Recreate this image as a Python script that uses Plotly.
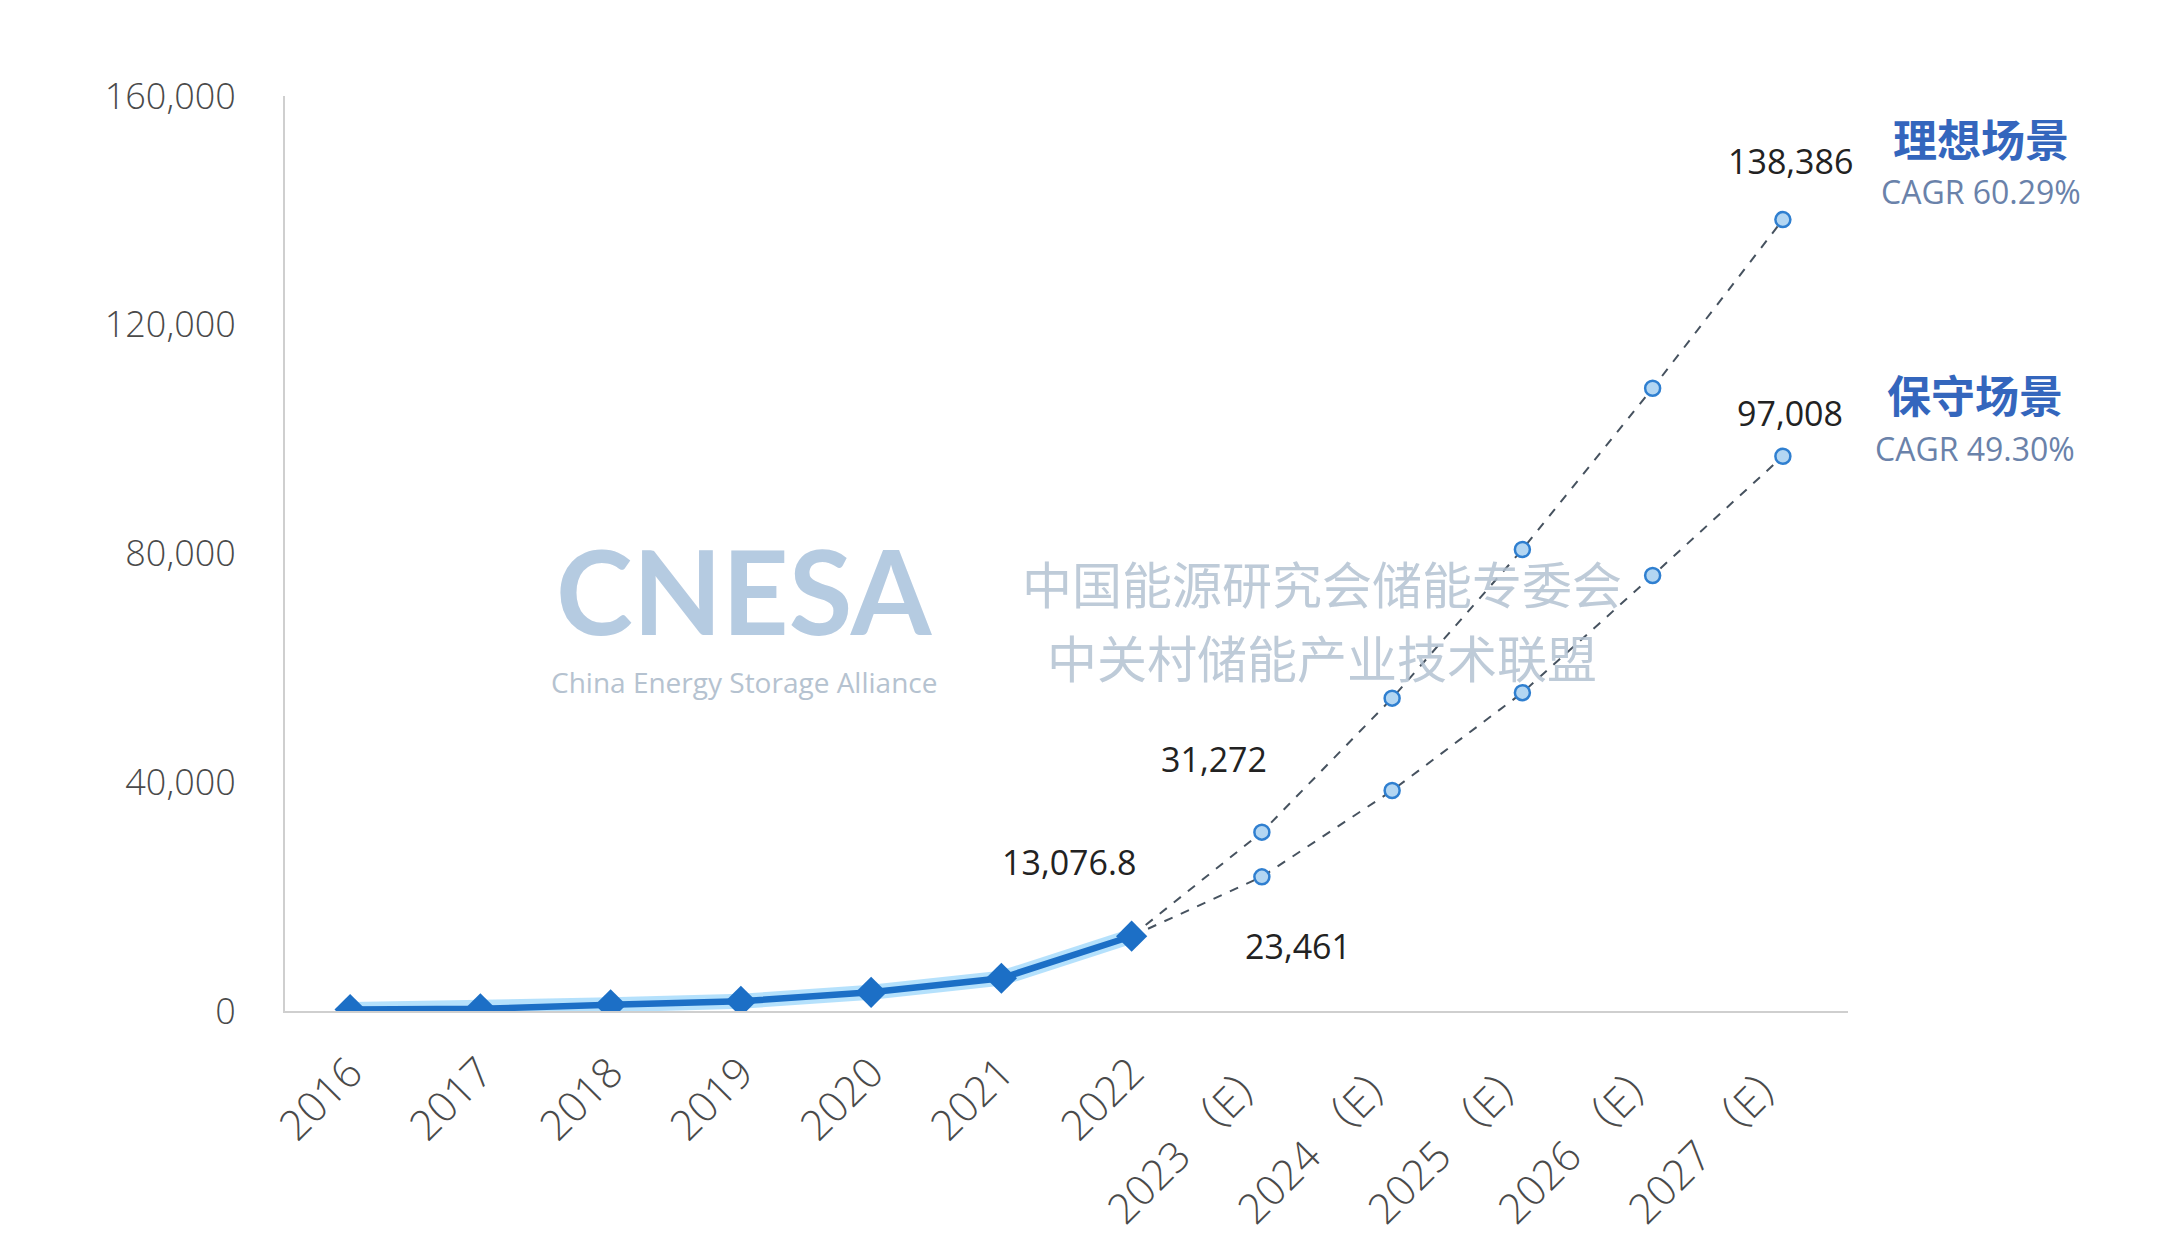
import plotly.graph_objects as go

# ---- data ----
categories = ["2016", "2017", "2018", "2019", "2020", "2021", "2022",
              "2023 （E）", "2024 （E）", "2025 （E）", "2026 （E）", "2027 （E）"]
hist_years = categories[:7]
hist_values = [243, 390, 1073, 1709, 3269, 5730, 13076.8]
proj_years = categories[6:]
ideal_values = [13076.8, 31272, 54700, 80700, 108900, 138386]
cons_values = [13076.8, 23461, 38550, 55660, 76150, 97008]
y_ticks = [0, 40000, 80000, 120000, 160000]
y_tick_text = ["0", "40,000", "80,000", "120,000", "160,000"]

ideal_name = "理想场景"
ideal_cagr = "CAGR 60.29%"
cons_name = "保守场景"
cons_cagr = "CAGR 49.30%"

FONT = "Open Sans, Noto Sans CJK SC, sans-serif"
CJK = "Noto Sans CJK SC, sans-serif"

fig = go.Figure()

# projections (dashed)
for vals in (ideal_values, cons_values):
    fig.add_trace(go.Scatter(
        x=proj_years, y=vals, mode="lines+markers",
        line=dict(color="#46525f", width=2, dash="dash"),
        marker=dict(symbol="circle", size=15, color="#b3d6f2",
                    line=dict(color="#2f7fd0", width=2.5)),
        hoverinfo="skip", showlegend=False))

# historical glow + line
fig.add_trace(go.Scatter(
    x=hist_years, y=hist_values, mode="lines",
    line=dict(color="rgba(120,200,250,0.55)", width=15),
    hoverinfo="skip", showlegend=False))
fig.add_trace(go.Scatter(
    x=hist_years, y=hist_values, mode="lines+markers",
    line=dict(color="#1c6fc6", width=6.5),
    marker=dict(symbol="diamond", size=24, color="#1c6fc6"),
    showlegend=False))

# value labels (x given as category index)
idx = {c: i for i, c in enumerate(categories)}
labels = [
    (idx[hist_years[-1]], hist_values[-1], "13,076.8", -63, 74),
    (idx[proj_years[1]], ideal_values[1], "31,272", -48, 73),
    (idx[proj_years[1]], cons_values[1], "23,461", 36, -69),
    (idx[proj_years[-1]], ideal_values[-1], "138,386", 8, 59),
    (idx[proj_years[-1]], cons_values[-1], "97,008", 7, 43),
]
for x, y, t, dx, dy in labels:
    fig.add_annotation(x=x, y=y, text=t, showarrow=False, xshift=dx, yshift=dy,
                       xanchor="center", yanchor="middle",
                       font=dict(family=FONT, size=34, color="#222222"))

def paper_text(x, y, text, font, opacity=1.0):
    fig.add_annotation(xref="paper", yref="paper", x=x, y=y, text=text,
                       showarrow=False, xanchor="center", yanchor="middle",
                       opacity=opacity, font=font)

# scenario labels
paper_text(1.085, 0.954, f"<b>{ideal_name}</b>", dict(family=CJK, size=44, color="#3466bd"))
paper_text(1.085, 0.896, ideal_cagr, dict(family=FONT, size=32, color="#6a82aa"))
paper_text(1.081, 0.674, f"<b>{cons_name}</b>", dict(family=CJK, size=44, color="#3466bd"))
paper_text(1.081, 0.615, cons_cagr, dict(family=FONT, size=32, color="#6a82aa"))

# watermark
paper_text(0.2937, 0.460, "<b>CNESA</b>", dict(family="Lato, sans-serif", size=116, color="#a9c2dc"), 0.85)
paper_text(0.2937, 0.360, "China Energy Storage Alliance", dict(family=FONT, size=28, color="#a9b8c8"), 0.85)
paper_text(0.6635, 0.469, "中国能源研究会储能专委会", dict(family=CJK, size=50, color="#b3c2d2"), 0.85)
paper_text(0.6635, 0.388, "中关村储能产业技术联盟", dict(family=CJK, size=50, color="#b3c2d2"), 0.85)

fig.update_layout(
    width=2160, height=1260,
    margin=dict(l=277, r=320, t=88, b=257),
    paper_bgcolor="#ffffff", plot_bgcolor="#ffffff",
    xaxis=dict(type="category", categoryorder="array", categoryarray=categories,
               range=[-0.5, 11.5], showgrid=False, zeroline=False,
               showline=True, linecolor="#cfcfcf", linewidth=2,
               tickangle=-45, ticks="", ticklabelstandoff=18,
               tickfont=dict(family=FONT, size=42, color="#4a4a4a", weight=300)),
    yaxis=dict(range=[0, 160000], tickvals=y_ticks, ticktext=y_tick_text,
               showgrid=False, zeroline=False, showline=True,
               linecolor="#cfcfcf", linewidth=2, ticks="", ticklabelstandoff=40,
               tickfont=dict(family=FONT, size=36, color="#4a4a4a", weight=300)),
)

fig.write_html("out.html")
